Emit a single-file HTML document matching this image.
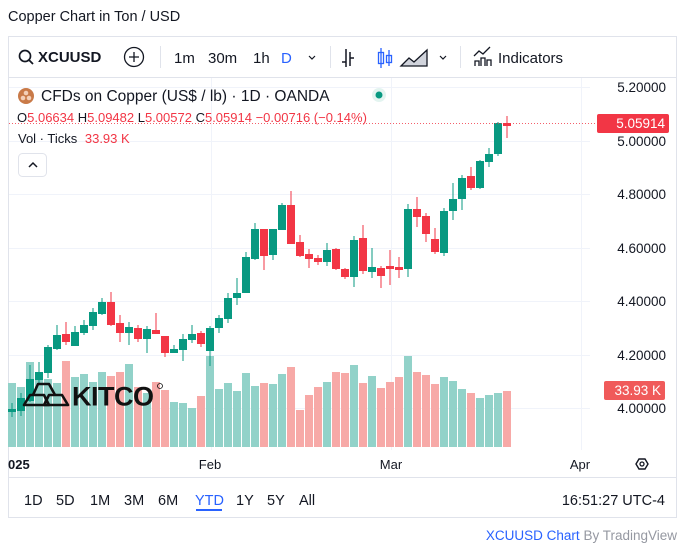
<!DOCTYPE html>
<html><head><meta charset="utf-8"><style>
body{margin:0;background:#fff;font-family:"Liberation Sans",sans-serif;}
svg{display:block}
text{font-family:"Liberation Sans",sans-serif}
</style></head><body>
<svg width="683" height="559" viewBox="0 0 683 559" xmlns="http://www.w3.org/2000/svg">
<rect width="683" height="559" fill="#fff"/>
<text x="8" y="21" font-size="14.5" fill="#131722">Copper Chart in Ton / USD</text>
<rect x="8.5" y="36.5" width="668" height="481" fill="#fff" stroke="#e0e3eb"/>
<line x1="9" y1="77.5" x2="676" y2="77.5" stroke="#e0e3eb"/>
<line x1="9" y1="477.5" x2="676" y2="477.5" stroke="#e0e3eb"/>
<!-- toolbar -->
<circle cx="25" cy="56" r="5.5" fill="none" stroke="#131722" stroke-width="1.7"/>
<line x1="29" y1="60" x2="33" y2="64" stroke="#131722" stroke-width="1.8"/>
<text x="38" y="62" font-size="15" font-weight="bold" fill="#131722">XCUUSD</text>
<circle cx="134" cy="57" r="9.5" fill="none" stroke="#131722" stroke-width="1.3"/>
<path d="M134 52v10M129 57h10" stroke="#131722" stroke-width="1.3"/>
<line x1="160.5" y1="46" x2="160.5" y2="68" stroke="#e0e3eb"/>
<text x="174" y="63" font-size="15" fill="#131722">1m</text>
<text x="208" y="63" font-size="15" fill="#131722">30m</text>
<text x="253" y="63" font-size="15" fill="#131722">1h</text>
<text x="281" y="63" font-size="15" fill="#2962ff">D</text>
<path d="M309 56l3 3 3-3" fill="none" stroke="#131722" stroke-width="1.2"/>
<line x1="330.5" y1="46" x2="330.5" y2="68" stroke="#e0e3eb"/>
<path d="M346 49v18M342 62h4M350 52v14M350 58h4" stroke="#131722" stroke-width="1.5" fill="none"/>
<path d="M381 48v20M389 50v16" stroke="#2962ff" stroke-width="1.3"/>
<rect x="378.5" y="52.5" width="5" height="11" fill="none" stroke="#2962ff" stroke-width="1.3"/>
<rect x="386.5" y="55.5" width="5" height="7" fill="none" stroke="#2962ff" stroke-width="1.3"/>
<path d="M401 66l8-8 5 4 13-12v16z" fill="#d1d4dc" stroke="#131722" stroke-width="1.3"/>
<path d="M440 56l3 3 3-3" fill="none" stroke="#131722" stroke-width="1.2"/>
<line x1="460.5" y1="46" x2="460.5" y2="68" stroke="#e0e3eb"/>
<path d="M475 66v-5h4v5M481 66v-8h4v8M487 66v-6h4v6M474 56l5-5 4 3 7-7" fill="none" stroke="#131722" stroke-width="1.3"/>
<text x="498" y="63" font-size="15" fill="#131722">Indicators</text>
<!-- grid -->
<g stroke="#f0f3fa" stroke-width="1">
<line x1="9" y1="87.5" x2="590" y2="87.5"/><line x1="9" y1="141.5" x2="590" y2="141.5"/>
<line x1="9" y1="194.5" x2="590" y2="194.5"/><line x1="9" y1="248.5" x2="590" y2="248.5"/>
<line x1="9" y1="301.5" x2="590" y2="301.5"/><line x1="9" y1="355.5" x2="590" y2="355.5"/>
<line x1="9" y1="408.5" x2="590" y2="408.5"/>
<line x1="211.5" y1="78" x2="211.5" y2="450"/><line x1="391.5" y1="78" x2="391.5" y2="450"/><line x1="581.5" y1="78" x2="581.5" y2="450"/>
</g>
<!-- volume -->
<g fill="#92d2c9">
<rect x="8" y="383" width="8" height="64"/><rect x="17" y="387" width="8" height="60"/><rect x="26" y="362" width="8" height="85"/><rect x="35" y="372" width="8" height="75"/><rect x="44" y="379" width="8" height="68"/><rect x="53" y="383" width="8" height="64"/>
<rect x="71" y="377" width="8" height="70"/><rect x="80" y="374" width="8" height="73"/><rect x="89" y="382" width="8" height="65"/><rect x="98" y="372" width="8" height="75"/>
<rect x="125" y="364" width="8" height="83"/><rect x="143" y="393" width="8" height="54"/>
<rect x="170" y="402" width="8" height="45"/><rect x="179" y="403" width="8" height="44"/><rect x="188" y="408" width="8" height="39"/>
<rect x="206" y="356" width="8" height="91"/><rect x="215" y="389" width="8" height="58"/><rect x="224" y="383" width="8" height="64"/><rect x="233" y="391" width="8" height="56"/><rect x="242" y="373" width="8" height="74"/><rect x="251" y="386" width="8" height="61"/>
<rect x="269" y="384" width="8" height="63"/><rect x="278" y="374" width="8" height="73"/>
<rect x="323" y="382" width="8" height="65"/><rect x="350" y="365" width="8" height="82"/><rect x="368" y="376" width="8" height="71"/>
<rect x="404" y="356" width="8" height="91"/><rect x="440" y="377" width="8" height="70"/><rect x="449" y="381" width="8" height="66"/><rect x="458" y="389" width="8" height="58"/>
<rect x="476" y="398" width="8" height="49"/><rect x="485" y="395" width="8" height="52"/><rect x="494" y="393" width="8" height="54"/>
</g>
<g fill="#f7a9a7">
<rect x="62" y="361" width="8" height="86"/><rect x="107" y="376" width="8" height="71"/><rect x="116" y="372" width="8" height="75"/><rect x="134" y="387" width="8" height="60"/>
<rect x="152" y="382" width="8" height="65"/><rect x="161" y="390" width="8" height="57"/><rect x="197" y="396" width="8" height="51"/>
<rect x="260" y="383" width="8" height="64"/><rect x="287" y="367" width="8" height="80"/><rect x="296" y="410" width="8" height="37"/><rect x="305" y="395" width="8" height="52"/><rect x="314" y="387" width="8" height="60"/>
<rect x="332" y="372" width="8" height="75"/><rect x="341" y="373" width="8" height="74"/><rect x="359" y="383" width="8" height="64"/><rect x="377" y="388" width="8" height="59"/><rect x="386" y="382" width="8" height="65"/><rect x="395" y="377" width="8" height="70"/>
<rect x="413" y="372" width="8" height="75"/><rect x="422" y="375" width="8" height="72"/><rect x="431" y="384" width="8" height="63"/><rect x="467" y="393" width="8" height="54"/><rect x="503" y="391" width="8" height="56"/>
</g>
<!-- candles green -->
<g fill="#089981" stroke="#089981" stroke-width="1">
<path d="M12 403v14M21 393v23M30 365v37M39 362v23M48 345v33M57 325v25M75 326v20M84 320v15M93 308v22M102 298v17M129 322v23M147 326v27M174 345v8M183 334v27M192 325v18M210 326v40M219 315v18M228 293v30M237 278v27M246 252v41M255 223v37M273 229v31M282 203v27M327 243v23M354 236v51M372 248v30M408 204v73M444 208v48M453 183v37M462 175v35M480 160v29M489 148v19M498 122v34" fill="none"/>
<rect x="8.5" y="409.5" width="7" height="2"/><rect x="17.5" y="398.5" width="7" height="12"/><rect x="26.5" y="379.5" width="7" height="21"/><rect x="35.5" y="372.5" width="7" height="7"/><rect x="44.5" y="347.5" width="7" height="25"/><rect x="53.5" y="335.5" width="7" height="13"/>
<rect x="71.5" y="332.5" width="7" height="13"/><rect x="80.5" y="325.5" width="7" height="7"/><rect x="89.5" y="312.5" width="7" height="13"/><rect x="98.5" y="302.5" width="7" height="11"/>
<rect x="125.5" y="327.5" width="7" height="5"/><rect x="143.5" y="329.5" width="7" height="9"/><rect x="170.5" y="349.5" width="7" height="3"/><rect x="179.5" y="339.5" width="7" height="10"/><rect x="188.5" y="334.5" width="7" height="5"/>
<rect x="206.5" y="328.5" width="7" height="22"/><rect x="215.5" y="318.5" width="7" height="9"/><rect x="224.5" y="298.5" width="7" height="20"/><rect x="233.5" y="293.5" width="7" height="4"/><rect x="242.5" y="257.5" width="7" height="35"/><rect x="251.5" y="229.5" width="7" height="29"/>
<rect x="269.5" y="229.5" width="7" height="25"/><rect x="278.5" y="205.5" width="7" height="24"/><rect x="323.5" y="250.5" width="7" height="11"/><rect x="350.5" y="240.5" width="7" height="36"/><rect x="368.5" y="267.5" width="7" height="4"/>
<rect x="404.5" y="209.5" width="7" height="59"/><rect x="440.5" y="211.5" width="7" height="41"/><rect x="449.5" y="199.5" width="7" height="11"/><rect x="458.5" y="178.5" width="7" height="20"/><rect x="476.5" y="161.5" width="7" height="26"/><rect x="485.5" y="154.5" width="7" height="7"/><rect x="494.5" y="123.5" width="7" height="30"/>
</g>
<g fill="#f23645" stroke="#f23645" stroke-width="1">
<path d="M66 322v23M111 292v34M120 315v27M138 325v17M156 313v20M165 336v21M201 331v16M264 229v41M291 191v52M300 235v22M309 249v19M318 255v10M336 248v22M345 268v11M363 225v49M381 266v22M390 250v35M399 257v21M417 197v30M426 213v29M435 228v26M471 167v23M507 116v22" fill="none"/>
<rect x="62.5" y="334.5" width="7" height="7"/><rect x="107.5" y="302.5" width="7" height="22"/><rect x="116.5" y="323.5" width="7" height="9"/><rect x="134.5" y="328.5" width="7" height="10"/><rect x="152.5" y="330.5" width="7" height="3"/><rect x="161.5" y="336.5" width="7" height="16"/><rect x="197.5" y="333.5" width="7" height="10"/>
<rect x="260.5" y="229.5" width="7" height="26"/><rect x="287.5" y="205.5" width="7" height="38"/><rect x="296.5" y="242.5" width="7" height="13"/><rect x="305.5" y="254.5" width="7" height="4"/><rect x="314.5" y="258.5" width="7" height="3"/>
<rect x="332.5" y="249.5" width="7" height="19"/><rect x="341.5" y="269.5" width="7" height="7"/><rect x="359.5" y="238.5" width="7" height="32"/><rect x="377.5" y="268.5" width="7" height="7"/><rect x="386.5" y="266.5" width="7" height="2"/><rect x="395.5" y="267.5" width="7" height="2"/>
<rect x="413.5" y="209.5" width="7" height="7"/><rect x="422.5" y="216.5" width="7" height="17"/><rect x="431.5" y="239.5" width="7" height="12"/><rect x="467.5" y="176.5" width="7" height="11"/><rect x="503.5" y="123.5" width="7" height="2"/>
</g>
<line x1="9" y1="123.5" x2="597" y2="123.5" stroke="#f23645" stroke-dasharray="1 2" opacity="0.8"/>
<!-- kitco -->
<g stroke="#111" stroke-width="2.6" fill="none" stroke-linejoin="round">
<path d="M24 405l6-10h14l5 10z"/><path d="M44 405l5-10h13l6 10z"/><path d="M33 395l5-11h11l6 11"/>
</g>
<text x="72" y="405.5" font-size="27" font-weight="bold" fill="#111" letter-spacing="-0.5">KITCO</text>
<circle cx="160" cy="386" r="2.5" fill="none" stroke="#111" stroke-width="0.8"/>
<!-- legend -->
<circle cx="26" cy="96" r="8" fill="#c97a48"/>
<circle cx="26" cy="93" r="2.3" fill="#f3d0b8"/><circle cx="23" cy="98" r="2.3" fill="#f3d0b8"/><circle cx="29" cy="98" r="2.3" fill="#f3d0b8"/>
<text x="41" y="101" font-size="15.5" fill="#131722">CFDs on Copper (US$ / lb) · 1D · OANDA</text>
<circle cx="379" cy="95" r="7" fill="#e3f4f0"/><circle cx="379" cy="95" r="3.5" fill="#089981"/>
<text x="17" y="122" font-size="13" fill="#131722">O<tspan fill="#f23645">5.06634</tspan> H<tspan fill="#f23645">5.09482</tspan> L<tspan fill="#f23645">5.00572</tspan> C<tspan fill="#f23645">5.05914</tspan> <tspan fill="#f23645">−0.00716 (−0.14%)</tspan></text>
<text x="18" y="143" font-size="13" fill="#131722">Vol · Ticks <tspan dx="4" fill="#f23645">33.93 K</tspan></text>
<rect x="18.5" y="153.5" width="28" height="23" rx="4" fill="#fff" stroke="#e0e3eb"/>
<path d="M29 167l4-4 4 4" fill="none" stroke="#131722" stroke-width="1.5"/>
<!-- price axis -->
<g font-size="13.5" fill="#131722" text-anchor="end">
<text x="666" y="92">5.20000</text><text x="666" y="146">5.00000</text><text x="666" y="199">4.80000</text><text x="666" y="253">4.60000</text><text x="666" y="306">4.40000</text><text x="666" y="360">4.20000</text><text x="666" y="413">4.00000</text>
</g>
<rect x="597" y="114" width="72" height="19" rx="2" fill="#f23645"/>
<text x="665" y="128" font-size="13.5" fill="#fff" text-anchor="end">5.05914</text>
<rect x="604" y="381" width="61" height="19" rx="2" fill="#f05a5a"/>
<text x="661" y="395" font-size="13.5" fill="#fff" text-anchor="end">33.93 K</text>
<!-- time axis -->
<g font-size="13" fill="#131722">
<text x="8" y="469" font-weight="bold">025</text>
<text x="210" y="469" text-anchor="middle">Feb</text>
<text x="391" y="469" text-anchor="middle">Mar</text>
<text x="580" y="469" text-anchor="middle">Apr</text>
</g>
<path d="M636 464l3-5h6l3 5-3 5h-6z" fill="none" stroke="#131722" stroke-width="1.4"/>
<circle cx="642" cy="464" r="2" fill="none" stroke="#131722" stroke-width="1.3"/>
<!-- range -->
<g font-size="14.5" fill="#131722">
<text x="24" y="505">1D</text><text x="56" y="505">5D</text><text x="90" y="505">1M</text><text x="124" y="505">3M</text><text x="158" y="505">6M</text>
<text x="195" y="505" fill="#2962ff">YTD</text><text x="236" y="505">1Y</text><text x="267" y="505">5Y</text><text x="299" y="505">All</text>
<text x="665" y="505" text-anchor="end">16:51:27 UTC-4</text>
</g>
<rect x="196" y="509" width="26" height="2" fill="#2962ff"/>
<text x="677" y="540" font-size="13.5" text-anchor="end" fill="#9598a1"><tspan fill="#2962ff">XCUUSD Chart</tspan> By TradingView</text>
</svg>
</body></html>
